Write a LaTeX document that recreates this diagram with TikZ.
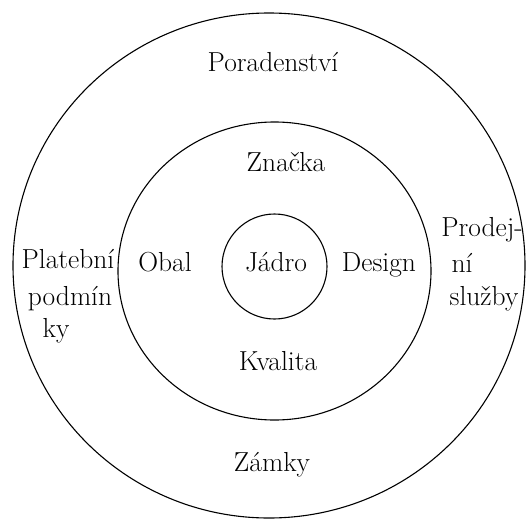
\documentclass[tikz,border=0pt]{standalone}
\usepackage{fontspec}
\setmainfont{Latin Modern Roman}
\begin{document}
\begin{tikzpicture}[x=1pt,y=-1pt,
  ring/.style={draw=black,line width=1.1pt},
  lbl/.style={font=\fontsize{27.5}{31}\selectfont,inner sep=0pt,anchor=base}]
\useasboundingbox (0,0) rectangle (527,522);
\draw[ring] (269,265.5) ellipse [x radius=256,y radius=252.5];
\draw[ring] (274.5,271) ellipse [x radius=156.5,y radius=149];
\draw[ring] (274.5,266.5) circle [radius=52.5];
\node[lbl] (por) at (273,71) {Poradenství};
\node[lbl] (zn) at (286,171) {Značka};
\node[lbl] (ob) at (165,271) {Obal};
\node[lbl] (jad) at (276,271) {Jádro};
\node[lbl] (des) at (379,271) {Design};
\node[lbl] (kv) at (278,370) {Kvalita};
\node[lbl] (zam) at (272,471) {Zámky};
\node[lbl] (pl1) at (68,268) {Platební};
\node[lbl] (pl2) at (70,305) {podmín};
\node[lbl] (pl3) at (56,337) {ky};
\node[lbl] (pr1) at (482,236) {Prodej-};
\node[lbl] (pr2) at (462,272) {ní};
\node[lbl] (pr3) at (484,305) {služby};
\end{tikzpicture}
\end{document}
